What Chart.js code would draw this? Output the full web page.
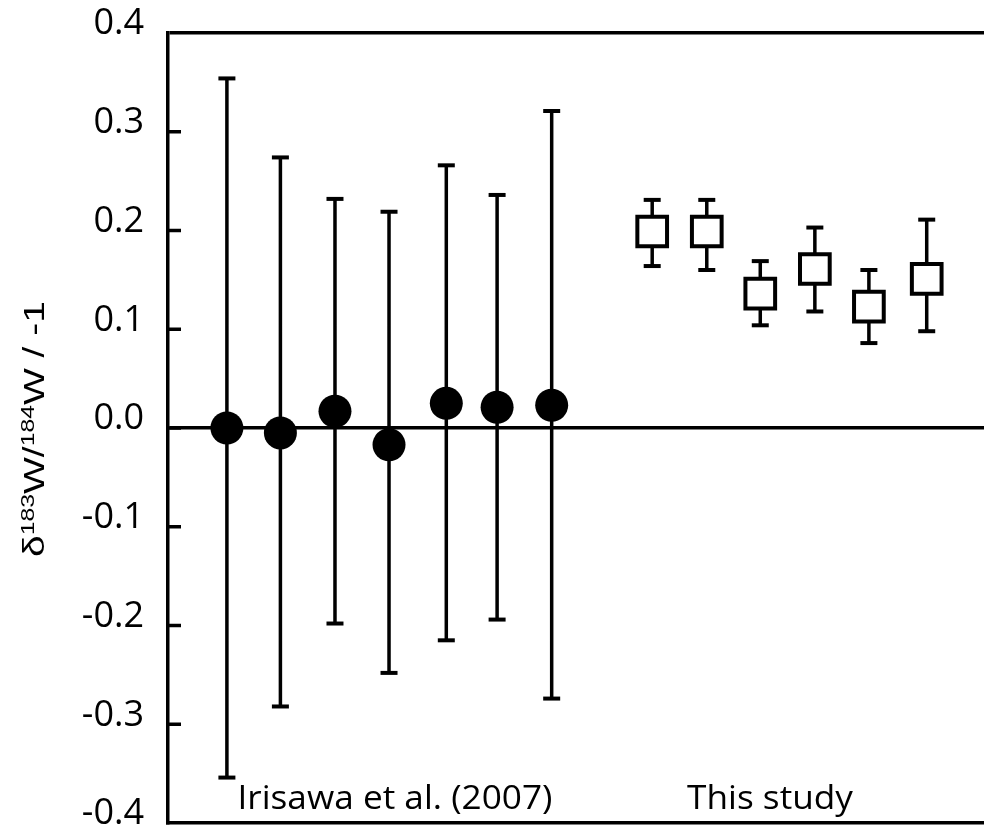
<!DOCTYPE html>
<html>
<head>
<meta charset="utf-8">
<script src="https://cdn.jsdelivr.net/npm/chart.js@4/dist/chart.umd.min.js"></script>
<style>
  html, body { margin: 0; padding: 0; background: #fff; overflow: hidden; }
  canvas { display: block; }
</style>
</head>
<body>
<canvas id="c" width="984" height="833" style="width:984px;height:833px"></canvas>
<script>
// ---- data ----
// Irisawa et al. (2007): sample positions, delta values, error-bar limits
const irisawaX    = [1.09, 2.08, 3.09, 4.09, 5.15, 6.09, 7.10];
const irisawaY    = [0.000, -0.005, 0.017, -0.017, 0.025, 0.021, 0.023];
const irisawaHigh = [0.354, 0.274, 0.232, 0.219, 0.266, 0.236, 0.321];
const irisawaLow  = [-0.354, -0.282, -0.198, -0.248, -0.215, -0.194, -0.274];
// This study
const studyX    = [8.96, 9.97, 10.96, 11.97, 12.97, 14.04];
const studyY    = [0.199, 0.199, 0.136, 0.161, 0.123, 0.151];
const studyHigh = [0.231, 0.231, 0.169, 0.203, 0.160, 0.211];
const studyLow  = [0.164, 0.160, 0.104, 0.118, 0.086, 0.098];
// group labels and their positions in data units
const groupLabels = ['Irisawa et al. (2007)', 'This study'];
const groupLabelX = [4.2, 11.14];
const groupLabelY = -0.386;
// y axis ticks and title
const yTicks = [-0.4, -0.3, -0.2, -0.1, 0.0, 0.1, 0.2, 0.3, 0.4];
const yTitleParts = [['δ', false], ['183', true], ['W/', false], ['184', true], ['W / -1', false]];

// ---- build datasets from the arrays ----
const allX = irisawaX.concat(studyX);
const allHigh = irisawaHigh.concat(studyHigh);
const allLow = irisawaLow.concat(studyLow);
const barSegments = [];
allX.forEach((x, i) => {
  barSegments.push({x: x, y: allLow[i]});
  barSegments.push({x: x, y: allHigh[i]});
  barSegments.push({x: x, y: null});
});
const caps = [];
allX.forEach((x, i) => {
  caps.push({x: x, y: allLow[i]});
  caps.push({x: x, y: allHigh[i]});
});

// inward y ticks + axis title + group labels
const decorPlugin = {
  id: 'decor',
  beforeDatasetsDraw(chart) {
    const ctx = chart.ctx;
    const ys = chart.scales.y;
    const area = chart.chartArea;
    ctx.save();
    ctx.strokeStyle = '#000';
    ctx.lineWidth = 3.5;
    yTicks.forEach(v => {
      if (v === yTicks[0] || v === yTicks[yTicks.length - 1]) return;
      const py = ys.getPixelForValue(v);
      ctx.beginPath();
      ctx.moveTo(area.left, py);
      ctx.lineTo(area.left + 13, py);
      ctx.stroke();
    });
    ctx.restore();
  },
  afterDraw(chart) {
    const ctx = chart.ctx;
    const xs = chart.scales.x;
    const ys = chart.scales.y;
    ctx.save();
    ctx.fillStyle = '#000';
    ctx.font = '32px "Open Sans"';
    ctx.textAlign = 'center';
    ctx.textBaseline = 'alphabetic';
    groupLabels.forEach((t, i) => {
      ctx.save();
      ctx.translate(xs.getPixelForValue(groupLabelX[i]), ys.getPixelForValue(groupLabelY));
      ctx.scale(1.1, 1);
      ctx.fillText(t, 0, 0);
      ctx.restore();
    });
    const mainFont = '30px "Liberation Sans", Arial, sans-serif';
    const supFont = '19px "Liberation Sans", Arial, sans-serif';
    let total = 0;
    yTitleParts.forEach(([t, sup]) => {
      ctx.font = sup ? supFont : mainFont;
      total += ctx.measureText(t).width;
    });
    const stretch = 1.3;
    const cy = (chart.chartArea.top + chart.chartArea.bottom) / 2 + 1;
    ctx.translate(44, cy);
    ctx.rotate(-Math.PI / 2);
    ctx.scale(stretch, 1);
    ctx.textAlign = 'left';
    let x = -total / 2;
    yTitleParts.forEach(([t, sup]) => {
      ctx.font = sup ? supFont : mainFont;
      ctx.fillText(t, x, sup ? -10 : 0);
      x += ctx.measureText(t).width;
    });
    ctx.restore();
  }
};

new Chart(document.getElementById('c'), {
  type: 'scatter',
  data: {
    datasets: [
      { label: 'Irisawa et al. (2007)', data: irisawaX.map((x, i) => ({x: x, y: irisawaY[i]})),
        pointStyle: 'circle', pointRadius: 16.5, pointBackgroundColor: '#000', pointBorderColor: '#000', pointBorderWidth: 0, order: 0 },
      { label: 'This study', data: studyX.map((x, i) => ({x: x, y: studyY[i]})),
        pointStyle: 'rect', pointRadius: 21, pointBackgroundColor: '#fff', pointBorderColor: '#000', pointBorderWidth: 4, order: 1 },
      { label: 'caps', data: caps, pointStyle: 'line', pointRadius: 8.5, pointBorderColor: '#000', pointBorderWidth: 4, order: 2 },
      { label: 'bars', data: barSegments, showLine: true, spanGaps: false, borderColor: '#000', borderWidth: 3.5, pointRadius: 0, order: 3 }
    ]
  },
  options: {
    responsive: false,
    animation: false,
    events: [],
    layout: { autoPadding: false, padding: { top: 33, bottom: 10, left: 0, right: 0 } },
    plugins: { legend: { display: false }, tooltip: { enabled: false } },
    scales: {
      x: {
        type: 'linear', min: 0, max: 15.1,
        afterFit(scale) { scale.height = 0; scale.paddingLeft = 0; scale.paddingRight = 0; },
        grid: { display: false, drawTicks: false },
        ticks: { display: false },
        border: { display: true, color: '#000', width: 3.5 }
      },
      y: {
        min: -0.4, max: 0.4,
        afterFit(scale) { scale.width = 168; scale.paddingTop = 0; scale.paddingBottom = 0; },
        afterBuildTicks(scale) { scale.ticks = yTicks.map(v => ({value: v})); },
        ticks: { color: '#000', font: { family: '"Open Sans"', size: 36 }, padding: 24, labelOffset: -9,
          callback: v => Number(v).toFixed(1) },
        grid: { drawTicks: false,
          color: c => (Math.abs(c.tick.value) < 1e-9 || Math.abs(c.tick.value - 0.4) < 1e-9) ? '#000' : 'rgba(0,0,0,0)',
          lineWidth: 3.5 },
        border: { display: true, color: '#000', width: 3.5 }
      }
    }
  },
  plugins: [decorPlugin]
});
</script>
</body>
</html>
